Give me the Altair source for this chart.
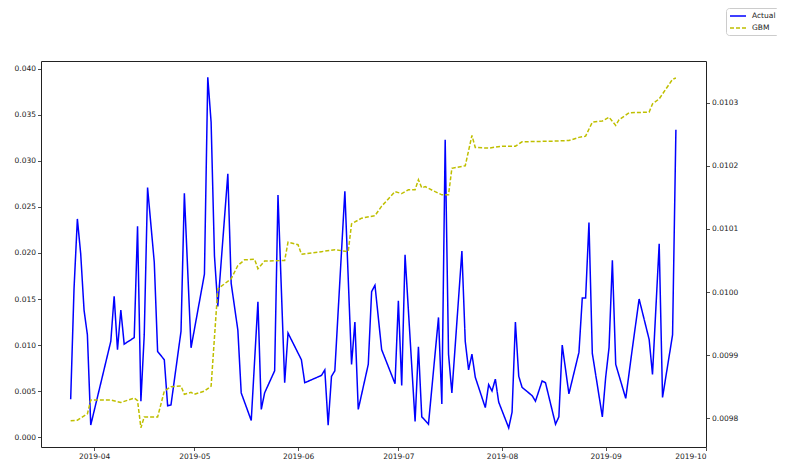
import altair as alt
import pandas as pd

# ---- data ----
actual_dates = [
    "2019-03-25", "2019-03-26", "2019-03-27", "2019-03-28", "2019-03-29", "2019-03-30", "2019-03-31",
    "2019-04-06", "2019-04-07", "2019-04-08", "2019-04-09", "2019-04-10", "2019-04-13", "2019-04-14",
    "2019-04-15", "2019-04-16", "2019-04-17", "2019-04-19", "2019-04-20", "2019-04-22", "2019-04-23",
    "2019-04-24", "2019-04-27", "2019-04-28", "2019-04-30", "2019-05-04", "2019-05-05", "2019-05-06",
    "2019-05-07", "2019-05-08", "2019-05-11", "2019-05-12", "2019-05-14", "2019-05-15", "2019-05-18",
    "2019-05-20", "2019-05-21", "2019-05-22", "2019-05-25", "2019-05-26", "2019-05-28", "2019-05-29",
    "2019-06-02", "2019-06-03", "2019-06-08", "2019-06-09", "2019-06-10", "2019-06-11", "2019-06-12",
    "2019-06-15", "2019-06-17", "2019-06-18", "2019-06-19", "2019-06-22", "2019-06-23", "2019-06-24",
    "2019-06-26", "2019-06-30", "2019-07-01", "2019-07-02", "2019-07-03", "2019-07-06", "2019-07-07",
    "2019-07-08", "2019-07-10", "2019-07-13", "2019-07-14", "2019-07-15", "2019-07-16", "2019-07-17",
    "2019-07-20", "2019-07-21", "2019-07-22", "2019-07-23", "2019-07-24", "2019-07-27", "2019-07-28",
    "2019-07-29", "2019-07-30", "2019-07-31", "2019-08-03", "2019-08-04", "2019-08-05", "2019-08-06",
    "2019-08-07", "2019-08-10", "2019-08-11", "2019-08-13", "2019-08-14", "2019-08-17", "2019-08-18",
    "2019-08-19", "2019-08-21", "2019-08-24", "2019-08-25", "2019-08-26", "2019-08-27", "2019-08-28",
    "2019-08-31", "2019-09-01", "2019-09-02", "2019-09-03", "2019-09-04", "2019-09-07", "2019-09-09",
    "2019-09-11", "2019-09-14", "2019-09-15", "2019-09-17", "2019-09-18", "2019-09-21", "2019-09-22",
]
actual_values = [
    0.0041, 0.0161, 0.0237, 0.0199, 0.0138, 0.0111, 0.0013,
    0.0104, 0.0153, 0.0095, 0.0138, 0.0101, 0.0108, 0.0229,
    0.0039, 0.0111, 0.0271, 0.0190, 0.0093, 0.0084, 0.0034,
    0.0035, 0.0115, 0.0265, 0.0097, 0.0177, 0.0391, 0.0342,
    0.0197, 0.0142, 0.0286, 0.0167, 0.0116, 0.0048, 0.0018,
    0.0147, 0.0030, 0.0048, 0.0072, 0.0263, 0.0059, 0.0113,
    0.0084, 0.0059, 0.0067, 0.0073, 0.0013, 0.0066, 0.0072,
    0.0267, 0.0079, 0.0125, 0.0030, 0.0079, 0.0158, 0.0165,
    0.0095, 0.0058, 0.0148, 0.0056, 0.0198, 0.0017, 0.0098,
    0.0022, 0.0014, 0.0130, 0.0036, 0.0323, 0.0090, 0.0048,
    0.0202, 0.0104, 0.0073, 0.0090, 0.0065, 0.0032, 0.0057,
    0.0050, 0.0063, 0.0038, 0.0010, 0.0027, 0.0125, 0.0066,
    0.0054, 0.0045, 0.0039, 0.0061, 0.0059, 0.0014, 0.0022,
    0.0100, 0.0047, 0.0092, 0.0151, 0.0151, 0.0233, 0.0091,
    0.0022, 0.0065, 0.0097, 0.0192, 0.0079, 0.0042, 0.0097,
    0.0150, 0.0106, 0.0068, 0.0210, 0.0043, 0.0111, 0.0334,
]

gbm_dates = [
    "2019-03-25", "2019-03-27", "2019-03-30", "2019-03-31", "2019-04-06", "2019-04-09", "2019-04-13",
    "2019-04-14", "2019-04-15", "2019-04-16", "2019-04-20", "2019-04-22", "2019-04-24", "2019-04-27",
    "2019-04-28", "2019-04-30", "2019-05-01", "2019-05-04", "2019-05-06", "2019-05-08", "2019-05-12",
    "2019-05-14", "2019-05-16", "2019-05-19", "2019-05-20", "2019-05-22", "2019-05-28", "2019-05-29",
    "2019-06-01", "2019-06-02", "2019-06-08", "2019-06-12", "2019-06-16", "2019-06-17", "2019-06-20",
    "2019-06-24", "2019-06-26", "2019-06-30", "2019-07-02", "2019-07-04", "2019-07-06", "2019-07-07",
    "2019-07-08", "2019-07-09", "2019-07-12", "2019-07-14", "2019-07-16", "2019-07-17", "2019-07-21",
    "2019-07-23", "2019-07-24", "2019-07-28", "2019-08-01", "2019-08-05", "2019-08-07", "2019-08-16",
    "2019-08-21", "2019-08-24", "2019-08-26", "2019-08-28", "2019-08-31", "2019-09-02", "2019-09-04",
    "2019-09-05", "2019-09-08", "2019-09-14", "2019-09-15", "2019-09-17", "2019-09-21", "2019-09-22",
]
gbm_values = [
    0.009796, 0.009797, 0.009807, 0.009829, 0.009829, 0.009825, 0.009832,
    0.009828, 0.009785, 0.009802, 0.009802, 0.009843, 0.009850, 0.009851,
    0.009838, 0.009841, 0.009838, 0.009843, 0.009851, 0.010005, 0.010021,
    0.010042, 0.010051, 0.010052, 0.010037, 0.010049, 0.010050, 0.010079,
    0.010075, 0.010060, 0.010064, 0.010067, 0.010064, 0.010108, 0.010117,
    0.010121, 0.010136, 0.010159, 0.010156, 0.010162, 0.010162, 0.010178,
    0.010165, 0.010167, 0.010159, 0.010154, 0.010154, 0.010196, 0.010200,
    0.010248, 0.010229, 0.010228, 0.010231, 0.010231, 0.010238, 0.010239,
    0.010240, 0.010245, 0.010247, 0.010269, 0.010271, 0.010277, 0.010264,
    0.010273, 0.010284, 0.010285, 0.010298, 0.010306, 0.010337, 0.010339,
]

series_names = ["Actual", "GBM"]
series_colors = ["#0000ff", "#bfbf00"]
left_ticks = [0.000, 0.005, 0.010, 0.015, 0.020, 0.025, 0.030, 0.035, 0.040]
right_ticks = [0.0098, 0.0099, 0.0100, 0.0101, 0.0102, 0.0103]
month_ticks = [4, 5, 6, 7, 8, 9, 10]

# ---- tables ----
df_actual = pd.DataFrame({
    "date": [d + "T00:00" for d in actual_dates],
    "value": actual_values,
    "series": "Actual",
})
df_gbm = pd.DataFrame({
    "date": [d + "T00:00" for d in gbm_dates],
    "value": gbm_values,
    "series": "GBM",
})

legend = alt.Legend(
    title=None, orient="none", legendX=685, legendY=-53,
    strokeColor="#cccccc", cornerRadius=3, padding=3, fillColor="white",
    symbolType="M-2,0H2", symbolSize=64, symbolStrokeWidth=1.4, symbolOffset=4,
    labelFont="DejaVu Sans", labelFontSize=7.5, labelColor="#222222",
    labelOffset=9, rowPadding=3,
)

color = alt.Color("series:N", scale=alt.Scale(domain=series_names, range=series_colors), legend=legend)
dash = alt.StrokeDash("series:N", scale=alt.Scale(domain=series_names, range=[[1, 0], [4, 2]]), legend=legend)

x_enc = alt.X(
    "date:T",
    scale=alt.Scale(
        domain=[alt.DateTime(year=2019, month=3, date=16, hours=3), alt.DateTime(year=2019, month=10, date=1)],
        nice=False,
    ),
    axis=alt.Axis(
        values=[alt.DateTime(year=2019, month=m, date=1) for m in month_ticks],
        format="%Y-%m", title=None, grid=False, labelAngle=0, labelPadding=1.5,
    ),
)

left = alt.Chart(df_actual).mark_line(strokeWidth=1.5).encode(
    x=x_enc,
    y=alt.Y("value:Q",
            scale=alt.Scale(domain=[-0.00108, 0.04086], nice=False, zero=False),
            axis=alt.Axis(values=left_ticks, format=".3f", title=None, grid=False, orient="left")),
    color=color,
    strokeDash=dash,
)

right = alt.Chart(df_gbm).mark_line(strokeWidth=1.5).encode(
    x=x_enc,
    y=alt.Y("value:Q",
            scale=alt.Scale(domain=[0.0097545, 0.010366], nice=False, zero=False),
            axis=alt.Axis(values=right_ticks, format=".4f", title=None, grid=False, orient="right")),
    color=color,
    strokeDash=dash,
)

chart = alt.layer(left, right).resolve_scale(y="independent").properties(
    width=665, height=386,
    autosize=alt.AutoSizeParams(type="none"),
    padding={"left": 33, "top": 53, "right": 71, "bottom": 13},
    background="white",
).configure_axis(
    labelFont="DejaVu Sans", labelFontSize=7.5, labelColor="#222222",
    tickColor="#222222", tickSize=3.5, tickWidth=0.8, domain=False, labelPadding=2,
).configure_view(
    stroke="#222222", strokeWidth=1,
)

chart.save("out.html", embed_options={"renderer": "svg", "actions": False})
